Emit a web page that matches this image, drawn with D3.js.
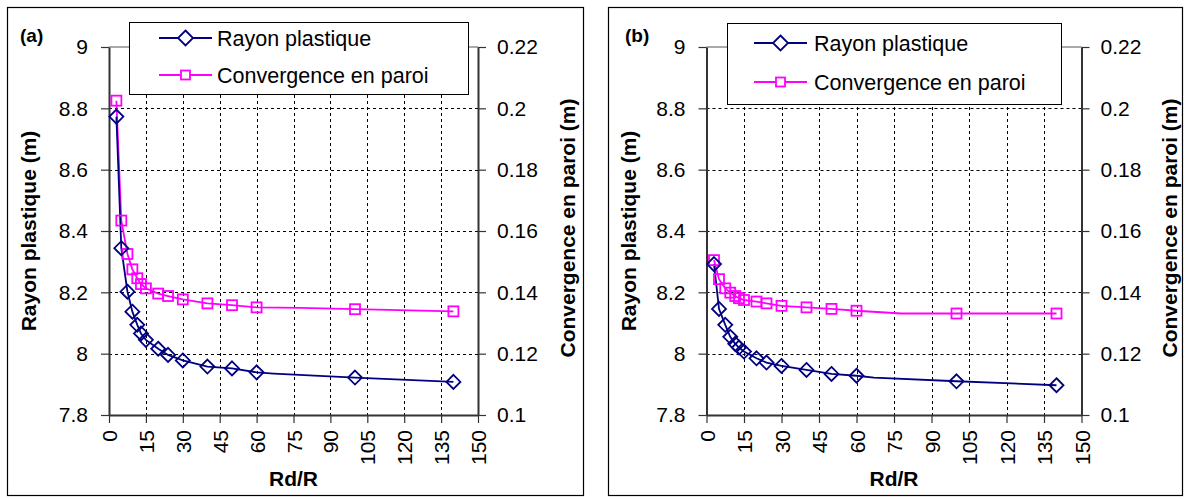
<!DOCTYPE html>
<html>
<head>
<meta charset="utf-8">
<script src="https://cdn.jsdelivr.net/npm/d3@7"></script>
<style>
  body { margin: 0; background: #fff; }
  svg { display: block; font-family: Arial, "Liberation Sans", sans-serif; }
</style>
</head>
<body>
<svg id="chart" width="1188" height="499"></svg>
<script>
// ---------- data ----------
const xTicks = [0, 15, 30, 45, 60, 75, 90, 105, 120, 135, 150];
const rayonTicks = [7.8, 8, 8.2, 8.4, 8.6, 8.8, 9];
const convTicks = [0.1, 0.12, 0.14, 0.16, 0.18, 0.2, 0.22];

const rdRayon = [3, 5, 7.5, 9.5, 11.5, 13, 15, 20, 24, 30, 40, 50, 60, 67, 100, 140];
const rdConv  = [3, 5, 7.5, 9.5, 11.5, 13, 15, 20, 24, 30, 40, 50, 60, 78, 100, 140];
const unmarkedRd = [67, 78];   // line vertices drawn without a marker

const rayonA = [8.773, 8.344, 8.202, 8.137, 8.094, 8.066, 8.045, 8.016, 7.996, 7.978, 7.958, 7.952, 7.939, 7.935, 7.922, 7.908];
const convA  = [0.2025, 0.1634, 0.1525, 0.1475, 0.1446, 0.1427, 0.1413, 0.1396, 0.1388, 0.1377, 0.1364, 0.1358, 0.1351, 0.1349, 0.1345, 0.1338];

const rayonB = [8.292, 8.146, 8.094, 8.055, 8.032, 8.020, 8.007, 7.985, 7.971, 7.960, 7.947, 7.934, 7.928, 7.922, 7.910, 7.897];
const convB  = [0.1505, 0.1443, 0.1413, 0.1399, 0.1388, 0.1381, 0.1375, 0.1370, 0.1364, 0.1356, 0.1351, 0.1346, 0.1340, 0.1331, 0.1331, 0.1331];

const seriesNames = ["Rayon plastique", "Convergence en paroi"];
const panelLabels = ["(a)", "(b)"];
const xTitle = "Rd/R";
const yLeftTitle = "Rayon plastique (m)";
const yRightTitle = "Convergence en paroi (m)";

// ---------- style ----------
const NAVY = "#000080", MAG = "#FF00FF";
const svg = d3.select("#chart");
const fmt = d => String(+d.toFixed(2));

function panel(cfg) {
  const g = svg.append("g");
  g.append("rect").attr("x", cfg.frame[0] + 0.5).attr("y", cfg.frame[1] + 0.5)
    .attr("width", cfg.frame[2] - cfg.frame[0]).attr("height", cfg.frame[3] - cfg.frame[1])
    .attr("fill", "#fff").attr("stroke", "#000").attr("stroke-width", 1.2);

  const x = d3.scaleLinear().domain([0, 150]).range([cfg.x0, cfg.x1]);
  const yL = d3.scaleLinear().domain([7.8, 9]).range([cfg.yB, cfg.yT]);
  const yR = d3.scaleLinear().domain([0.1, 0.22]).range([cfg.yB, cfg.yT]);

  g.append("line").attr("x1", cfg.x0).attr("x2", cfg.x1).attr("y1", cfg.yT).attr("y2", cfg.yT)
    .attr("stroke", "#8c8c8c").attr("stroke-width", 1.5);

  g.append("g").selectAll("line").data(rayonTicks.filter(d => d > 7.8 && d < 9)).join("line")
    .attr("x1", cfg.x0).attr("x2", cfg.x1).attr("y1", d => Math.round(yL(d)) + 0.5).attr("y2", d => Math.round(yL(d)) + 0.5)
    .attr("stroke", "#000").attr("stroke-width", 1).attr("stroke-dasharray", "3,3");
  g.append("g").selectAll("line").data(xTicks.filter(d => d > 0 && d < 150)).join("line")
    .attr("x1", d => Math.round(x(d)) + 0.5).attr("x2", d => Math.round(x(d)) + 0.5).attr("y1", cfg.yT).attr("y2", cfg.yB)
    .attr("stroke", "#000").attr("stroke-width", 1).attr("stroke-dasharray", "3,3");

  const axL = g.append("g").attr("transform", `translate(${cfg.x0},0)`)
    .call(d3.axisLeft(yL).tickValues(rayonTicks).tickFormat(fmt).tickSize(8).tickPadding(13).tickSizeOuter(0));
  const axR = g.append("g").attr("transform", `translate(${cfg.x1},0)`)
    .call(d3.axisRight(yR).tickValues(convTicks).tickFormat(fmt).tickSize(8).tickPadding(11).tickSizeOuter(0));
  const axB = g.append("g").attr("transform", `translate(0,${cfg.yB})`)
    .call(d3.axisBottom(x).tickValues(xTicks).tickFormat(fmt).tickSize(8).tickPadding(7).tickSizeOuter(0));
  [axL, axR, axB].forEach(a => {
    a.select(".domain").attr("stroke", "#333").attr("stroke-width", 2);
    a.selectAll(".tick line").attr("stroke", "#333").attr("stroke-width", 1.2);
    a.selectAll("text").attr("font-size", 21).attr("fill", "#000")
      .attr("font-family", "Arial, 'Liberation Sans', sans-serif");
  });
  axB.selectAll(".tick text")
    .attr("transform", "rotate(-90)").attr("text-anchor", "end")
    .attr("x", -15).attr("y", 0).attr("dy", "0.36em");

  g.append("text").attr("x", (cfg.x0 + cfg.x1) / 2).attr("y", 486).attr("text-anchor", "middle")
    .attr("font-size", 21).attr("font-weight", "bold").text(xTitle);
  g.append("text").attr("transform", `translate(${cfg.lt},${(cfg.yT + cfg.yB) / 2}) rotate(-90)`)
    .attr("text-anchor", "middle").attr("font-size", 21).attr("font-weight", "bold").text(yLeftTitle);
  g.append("text").attr("transform", `translate(${cfg.rt},${(cfg.yT + cfg.yB) / 2 - 3}) rotate(-90)`)
    .attr("text-anchor", "middle").attr("font-size", 21).attr("font-weight", "bold").text(yRightTitle);
  g.append("text").attr("x", cfg.lab[0]).attr("y", cfg.lab[1]).attr("font-size", 19)
    .attr("font-weight", "bold").text(cfg.label);

  const rData = rdRayon.map((d, i) => ({ x: d, y: cfg.rayon[i] }));
  const cData = rdConv.map((d, i) => ({ x: d, y: cfg.conv[i] }));
  const lineR = d3.line().x(d => x(d.x)).y(d => yL(d.y));
  const lineC = d3.line().x(d => x(d.x)).y(d => yR(d.y));

  g.append("path").datum(cData).attr("d", lineC).attr("fill", "none").attr("stroke", MAG).attr("stroke-width", 1.8);
  g.append("path").datum(rData).attr("d", lineR).attr("fill", "none").attr("stroke", NAVY).attr("stroke-width", 1.8);

  const dia = (cx, cy, r) => `M${cx},${cy - r}L${cx + r},${cy}L${cx},${cy + r}L${cx - r},${cy}Z`;
  g.append("g").selectAll("rect").data(cData.filter(d => !unmarkedRd.includes(d.x))).join("rect")
    .attr("x", d => x(d.x) - 5).attr("y", d => yR(d.y) - 5).attr("width", 10).attr("height", 10)
    .attr("fill", "none").attr("stroke", MAG).attr("stroke-width", 1.8);
  g.append("g").selectAll("path").data(rData.filter(d => !unmarkedRd.includes(d.x))).join("path")
    .attr("d", d => dia(x(d.x), yL(d.y), 7))
    .attr("fill", "none").attr("stroke", NAVY).attr("stroke-width", 1.8);

  const L = cfg.legend;
  const lg = g.append("g");
  lg.append("rect").attr("x", L.x + 0.5).attr("y", L.y + 0.5).attr("width", L.w).attr("height", L.h)
    .attr("fill", "#fff").attr("stroke", "#000").attr("stroke-width", 1);
  [[NAVY, "d"], [MAG, "s"]].forEach(([c, m], i) => {
    const cy = L.rows[i];
    lg.append("line").attr("x1", L.lx0).attr("x2", L.lx1).attr("y1", cy).attr("y2", cy)
      .attr("stroke", c).attr("stroke-width", 1.8);
    const cx = (L.lx0 + L.lx1) / 2;
    if (m === "d") lg.append("path").attr("d", dia(cx, cy, 7.5)).attr("fill", "#fff").attr("stroke", c).attr("stroke-width", 1.8);
    else lg.append("rect").attr("x", cx - 4.5).attr("y", cy - 4.5).attr("width", 9).attr("height", 9)
      .attr("fill", "#fff").attr("stroke", c).attr("stroke-width", 1.8);
    lg.append("text").attr("x", L.tx).attr("y", cy).attr("dy", "0.36em").attr("font-size", 21.5)
      .text(seriesNames[i]);
  });
}

panel({
  frame: [7, 7, 583, 495], x0: 109, x1: 478, yT: 47, yB: 415,
  lt: 36, rt: 575, lab: [20, 42], label: panelLabels[0],
  rayon: rayonA, conv: convA,
  legend: { x: 129, y: 22, w: 339, h: 72, rows: [38, 75], lx0: 159, lx1: 212, tx: 217 }
});
panel({
  frame: [608, 7, 1182, 495], x0: 706.5, x1: 1081.5, yT: 47, yB: 415,
  lt: 636, rt: 1177, lab: [625, 42], label: panelLabels[1],
  rayon: rayonB, conv: convB,
  legend: { x: 727, y: 23, w: 334, h: 81, rows: [43, 82], lx0: 754, lx1: 807, tx: 814 }
});
</script>
</body>
</html>
